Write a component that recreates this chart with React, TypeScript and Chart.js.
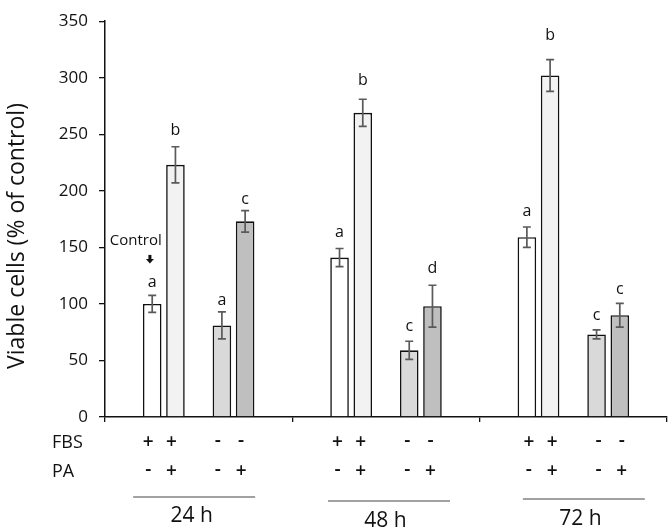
import React, { useEffect, useRef } from "react";
import { Chart, registerables } from "chart.js";

Chart.register(...registerables);

// ---- data ----
const timepoints = ["24 h", "48 h", "72 h"];
const fbsPlusPaMinus = [100, 141, 159];
const fbsPlusPaMinusErr = [7.5, 8, 9];
const fbsPlusPaPlus = [223, 269, 302];
const fbsPlusPaPlusErr = [16, 12, 14];
const fbsMinusPaMinus = [81, 59, 73];
const fbsMinusPaMinusErr = [12, 8, 4];
const fbsMinusPaPlus = [173, 98, 90];
const fbsMinusPaPlusErr = [9.5, 18.5, 10.5];
// significance letters per time point (order: FBS+PA-, FBS+PA+, FBS-PA-, FBS-PA+)
const letters = [
  ["a", "b", "a", "c"],
  ["a", "b", "c", "d"],
  ["a", "b", "c", "c"],
];
// letter levels (data units, baseline of the letter)
const letterLevels = [
  [115, 249, 99, 188],
  [159, 294, 76, 127],
  [178, 333, 86, 109],
];
const fbsSigns = ["+", "+", "-", "-"];
const paSigns = ["-", "+", "-", "+"];
const yMin = 0;
const yMax = 350;
const yStep = 50;
const yTitle = "Viable cells (% of control)";

const seriesValues = [fbsPlusPaMinus, fbsPlusPaPlus, fbsMinusPaMinus, fbsMinusPaPlus];
const seriesErrs = [fbsPlusPaMinusErr, fbsPlusPaPlusErr, fbsMinusPaMinusErr, fbsMinusPaPlusErr];
const seriesColors = ["#ffffff", "#f2f2f2", "#d9d9d9", "#bfbfbf"];
const datasetIndex = [0, 1, 3, 4]; // index 2 is an empty spacer slot

// ---- layout constants (pixels) ----
const FONT = "'Open Sans', 'Noto Sans', sans-serif";
const TEXT = "#111";
const signShift = [-4, -2, 2];
const lineShift = [-4.5, 3, 10.5];
const lineDrop = [80, 84, 82];
const labelShift = [-7, -0.5, 7];
const labelDrop = [105, 110, 108];

const annotPlugin = {
  id: "annot",
  afterDatasetsDraw(chart: any) {
    const ctx = chart.ctx;
    const y = chart.scales.y;
    ctx.save();
    datasetIndex.forEach((di, s) => {
      const meta = chart.getDatasetMeta(di);
      meta.data.forEach((bar: any, g: number) => {
        const v = seriesValues[s][g];
        const e = seriesErrs[s][g];
        const x = bar.x;
        const yt = y.getPixelForValue(v + e);
        const yb = y.getPixelForValue(v - e);
        ctx.strokeStyle = "#5a5a5a";
        ctx.lineWidth = 1.7;
        ctx.beginPath();
        ctx.moveTo(x, yt);
        ctx.lineTo(x, yb);
        ctx.moveTo(x - 4, yt);
        ctx.lineTo(x + 4, yt);
        ctx.moveTo(x - 4, yb);
        ctx.lineTo(x + 4, yb);
        ctx.stroke();
        ctx.fillStyle = TEXT;
        ctx.font = `16px ${FONT}`;
        ctx.textAlign = "center";
        ctx.textBaseline = "alphabetic";
        ctx.fillText(letters[g][s], x, y.getPixelForValue(letterLevels[g][s]));
      });
    });
    // "Control" label with arrow over first bar
    const first = chart.getDatasetMeta(0).data[0];
    const top = y.getPixelForValue(fbsPlusPaMinus[0]);
    ctx.fillStyle = TEXT;
    ctx.font = `15px ${FONT}`;
    ctx.textAlign = "center";
    ctx.fillText("Control", first.x - 16.5, top - 58.5);
    const ax = first.x - 2.3;
    const at = top - 49;
    ctx.fillRect(ax - 1.5, at, 3, 4.5);
    ctx.beginPath();
    ctx.moveTo(ax - 4, at + 4);
    ctx.lineTo(ax + 4, at + 4);
    ctx.lineTo(ax, at + 8.5);
    ctx.closePath();
    ctx.fill();
    ctx.restore();
  },
  afterDraw(chart: any) {
    const ctx = chart.ctx;
    const area = chart.chartArea;
    const b = area.bottom;
    const xs = chart.scales.x;
    ctx.save();
    ctx.fillStyle = TEXT;
    // y title
    ctx.save();
    ctx.translate(23.5, 236);
    ctx.rotate(-Math.PI / 2);
    ctx.font = `23px ${FONT}`;
    ctx.textAlign = "center";
    ctx.textBaseline = "alphabetic";
    ctx.fillText(yTitle, 0, 0);
    ctx.restore();
    // FBS / PA rows
    ctx.font = `18px ${FONT}`;
    ctx.textBaseline = "alphabetic";
    ctx.textAlign = "left";
    ctx.fillText("FBS", 52, b + 31);
    ctx.fillText("PA", 52, b + 60);
    ctx.textAlign = "center";
    timepoints.forEach((_, g) => {
      ctx.font = `600 19px ${FONT}`;
      datasetIndex.forEach((di, s) => {
        const x = chart.getDatasetMeta(di).data[g].x + signShift[g];
        const f = fbsSigns[s];
        const p = paSigns[s];
        ctx.fillText(f, x, b + 31 - (f === "-" ? 2 : 0));
        ctx.fillText(p, x, b + 60 - (p === "-" ? 2 : 0));
      });
      const cx = xs.getPixelForValue(g);
      ctx.strokeStyle = "#444";
      ctx.lineWidth = 1;
      ctx.beginPath();
      ctx.moveTo(cx + lineShift[g] - 61, b + lineDrop[g]);
      ctx.lineTo(cx + lineShift[g] + 61, b + lineDrop[g]);
      ctx.stroke();
      ctx.font = `21px ${FONT}`;
      ctx.fillText(timepoints[g], cx + labelShift[g], b + labelDrop[g]);
    });
    ctx.restore();
  },
};

export default function App() {
  const ref = useRef<HTMLCanvasElement>(null);
  useEffect(() => {
    if (!ref.current) return;
    Chart.defaults.font.family = FONT;
    const datasets: any[] = [];
    const order = [0, 1, -1, 2, 3];
    order.forEach((s) => {
      if (s < 0) {
        datasets.push({ label: "", data: timepoints.map(() => null), backgroundColor: "transparent", borderWidth: 0 });
      } else {
        datasets.push({
          label: `${fbsSigns[s]}FBS ${paSigns[s]}PA`,
          data: seriesValues[s],
          backgroundColor: seriesColors[s],
          borderColor: "#111",
          borderWidth: 1.6,
          borderSkipped: "bottom",
        });
      }
    });
    const chart = new Chart(ref.current, {
      type: "bar",
      data: { labels: timepoints, datasets },
      options: {
        responsive: false,
        animation: false,
        events: [],
        layout: { padding: { top: 10, right: 5, left: 0, bottom: 0 } },
        datasets: { bar: { categoryPercentage: 0.62, barPercentage: 0.8 } },
        plugins: { legend: { display: false }, tooltip: { enabled: false }, title: { display: false } },
        scales: {
          x: {
            afterFit: (s: any) => {
              s.height = 114;
            },
            ticks: { display: false },
            grid: { display: true, drawOnChartArea: false, offset: true, tickLength: 5, color: "#111", lineWidth: 1.3 },
            border: { display: true, color: "#111", width: 1.5 },
          },
          y: {
            min: yMin,
            max: yMax,
            afterFit: (s: any) => {
              s.width = 105;
            },
            ticks: { stepSize: yStep, padding: 11, color: TEXT, font: { size: 17, family: FONT } },
            grid: { display: true, drawOnChartArea: false, tickLength: 6, color: "#111", lineWidth: 1.3 },
            border: { display: true, color: "#111", width: 1.5 },
          },
        },
      },
      plugins: [annotPlugin],
    });
    return () => chart.destroy();
  }, []);
  return (
    <div style={{ position: "fixed", left: 0, top: 0, width: 672, height: 531, background: "#fff" }}>
      <canvas ref={ref} width={672} height={531} style={{ width: 672, height: 531, display: "block" }} />
    </div>
  );
}
